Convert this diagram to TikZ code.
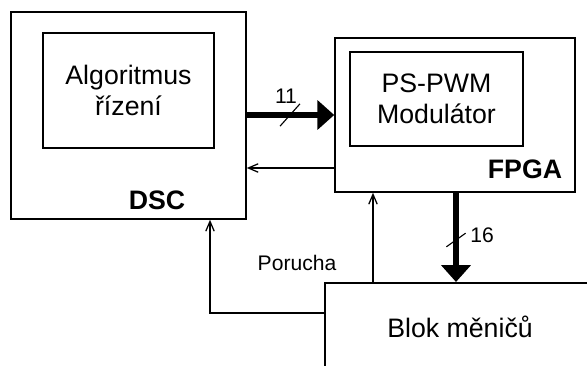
\documentclass[tikz,border=0pt]{standalone}
\usepackage{fontspec}
\setmainfont{Liberation Sans}
\usetikzlibrary{arrows.meta}

\begin{document}
\begin{tikzpicture}[
  box/.style={draw, line width=1.1pt, inner sep=0pt},
  txt/.style={font=\fontsize{19}{22}\selectfont, align=center},
  lbl/.style={font=\fontsize{15}{18}\selectfont},
  sig/.style={-{Straight Barb[length=7pt,width=6pt]}, line width=0.9pt},
  bus/.style={-{Triangle[length=0.42cm,width=0.72cm]}, line width=4.5pt},
  ]
  \clip (0,0) rectangle (14.675,9.125);
  % bloky
  \node[box, minimum width=5.875cm, minimum height=5.175cm] (dsc) at (3.2125,6.2375) {};
  \node[box, minimum width=4.275cm, minimum height=2.875cm, txt] (alg) at (3.2125,6.8625) {Algoritmus\\ řízení};
  \node[txt, font=\fontsize{19}{22}\selectfont\bfseries] (dsclbl) at (3.925,4.125) {DSC};
  \node[box, minimum width=6cm, minimum height=3.85cm] (fpga) at (11.375,6.25) {};
  \node[box, minimum width=4.325cm, minimum height=2.35cm, txt] (pwm) at (10.9125,6.65) {PS-PWM\\ Modulátor};
  \node[txt, font=\fontsize{19}{22}\selectfont\bfseries] (fpgalbl) at (13.125,4.9) {FPGA};
  \node[box, anchor=north west, minimum width=8cm, minimum height=3cm] (blok) at (8.1,2.075) {};
  \node[txt] (bloklbl) at (11.5,0.95) {Blok měničů};
  % pomocne body
  \coordinate (zp) at (0,4.925);
  \coordinate (up) at (9.325,0);
  \coordinate (dn) at (11.4,0);
  \coordinate (por) at (5.25,1.3);
  \coordinate (s11) at (7.25,6.25);
  \coordinate (s16) at (11.4,3.125);
  % spoje
  \draw[bus] (dsc.east |- fpga.west) -- (fpga.west);
  \draw[line width=0.8pt] ([shift={(-0.25,-0.28)}]s11) -- ([shift={(0.25,0.28)}]s11);
  \node[lbl] (n11) at (7.15,6.72) {11};
  \draw[sig] (fpga.west |- zp) -- (dsc.east |- zp);
  \draw[sig] (up |- blok.north) -- (up |- fpga.south);
  \draw[bus] (dn |- fpga.south) -- (dn |- blok.north);
  \draw[line width=0.8pt] ([shift={(-0.24,-0.17)}]s16) -- ([shift={(0.24,0.17)}]s16);
  \node[lbl] (n16) at (12.05,3.25) {16};
  \draw[sig] (blok.west |- por) -| (dsc.south -| por);
  \node[lbl] (porlbl) at (7.425,2.55) {Porucha};
\end{tikzpicture}
\end{document}
